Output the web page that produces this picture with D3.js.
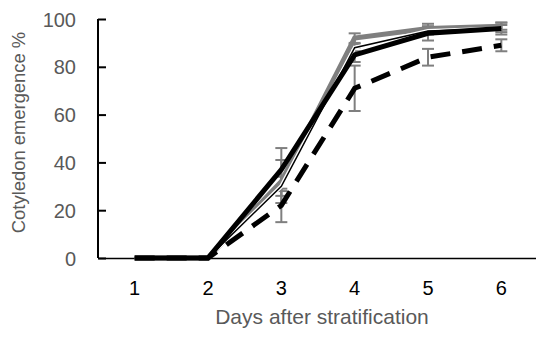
<!DOCTYPE html>
<html>
<head>
<meta charset="utf-8">
<script src="https://cdn.jsdelivr.net/npm/d3@7"></script>
<style>
  body { margin: 0; background: #fff; }
  svg { font-family: "Liberation Sans", Arial, sans-serif; }
</style>
</head>
<body>
<div id="chart"></div>
<script>
// Days after stratification
const days = ["1", "2", "3", "4", "5", "6"];
const yTicks = [0, 20, 40, 60, 80, 100];

// Emergence (%) and error bar half-lengths per series
const grayThick = [0, 0, 32, 92, 96, 97];
const grayThickErr = [0, 0, 9, 2, 2, 1.5];
const blackThick = [0, 0, 37, 85, 94, 96];
const blackThickErr = [0, 0, 9, 3, 3, 2.5];
const blackThin = [0, 0, 30, 88, 95, 96];
const blackThinErr = [0, 0, 4, 1.5, 1.5, 1.5];
const blackDashed = [0, 0, 22, 71, 84, 89];
const blackDashedErr = [0, 0, 7, 9.5, 3.5, 2.5];

const series = [
  { values: grayThick, err: grayThickErr, color: "#7f7f7f", width: 5, dash: null, outline: false },
  { values: blackThin, err: blackThinErr, color: "#000", width: 1.5, dash: null, outline: true },
  { values: blackThick, err: blackThickErr, color: "#000", width: 5, dash: null, outline: false },
  { values: blackDashed, err: blackDashedErr, color: "#000", width: 5, dash: "20,12", outline: false }
];

const W = 536, H = 339;
const margin = { top: 19, right: -2, bottom: 81, left: 98 };
const width = W - margin.left - margin.right;
const height = H - margin.top - margin.bottom;

const svg = d3.select("#chart")
  .append("svg")
  .attr("width", W)
  .attr("height", H)
  .append("g")
  .attr("transform", `translate(${margin.left},${margin.top})`);

const x = d3.scaleBand()
  .domain(days)
  .range([0, width]);

const y = d3.scaleLinear()
  .domain([0, 100])
  .range([height, 0]);

// Y axis with inside ticks
const yAxis = svg.append("g")
  .call(d3.axisLeft(y).tickValues(yTicks).tickSize(-8).tickPadding(22));
yAxis.select(".domain").attr("stroke", "#000").attr("stroke-width", 2).attr("d", `M0,0V${height}`);
yAxis.selectAll(".tick line").attr("stroke", "#000").attr("stroke-width", 2);
yAxis.selectAll(".tick text")
  .attr("fill", "#595959")
  .attr("font-size", "20px")
  .attr("dy", "0.35em");

// X axis
const xAxis = svg.append("g")
  .attr("transform", `translate(0,${height})`)
  .call(d3.axisBottom(x).tickSize(0).tickPadding(23));
xAxis.select(".domain").attr("stroke", "#000").attr("stroke-width", 1.5);
xAxis.selectAll(".tick text")
  .attr("fill", "#000")
  .attr("font-size", "20px");

// Axis titles
svg.append("text")
  .attr("x", 224)
  .attr("y", height + 66)
  .attr("text-anchor", "middle")
  .attr("fill", "#595959")
  .attr("font-size", "21px")
  .text("Days after stratification");

svg.append("text")
  .attr("transform", "rotate(-90)")
  .attr("x", -113.5)
  .attr("y", -73)
  .attr("text-anchor", "middle")
  .attr("fill", "#595959")
  .attr("font-size", "18.4px")
  .text("Cotyledon emergence %");

const cx = d => x(d) + x.bandwidth() / 2;

const line = d3.line()
  .x((d, i) => cx(days[i]))
  .y(d => y(d));

// Error bars
series.forEach(function(s) {
  const bars = svg.append("g").attr("stroke", "#7f7f7f").attr("stroke-width", 2);
  s.values.forEach(function(v, i) {
    if (!s.err[i]) return;
    const px = cx(days[i]);
    const top = y(v + s.err[i]);
    const bot = y(v - s.err[i]);
    bars.append("line").attr("x1", px).attr("x2", px).attr("y1", top).attr("y2", bot);
    bars.append("line").attr("x1", px - 6).attr("x2", px + 6).attr("y1", top).attr("y2", top);
    bars.append("line").attr("x1", px - 6).attr("x2", px + 6).attr("y1", bot).attr("y2", bot);
  });
});

// Lines
series.forEach(function(s) {
  if (s.outline) {
    svg.append("path")
      .datum(s.values)
      .attr("fill", "none")
      .attr("stroke", "#fff")
      .attr("stroke-width", 4)
      .attr("d", line);
  }
  svg.append("path")
    .datum(s.values)
    .attr("fill", "none")
    .attr("stroke", s.color)
    .attr("stroke-width", s.width)
    .attr("stroke-dasharray", s.dash)
    .attr("d", line);
});
</script>
</body>
</html>
